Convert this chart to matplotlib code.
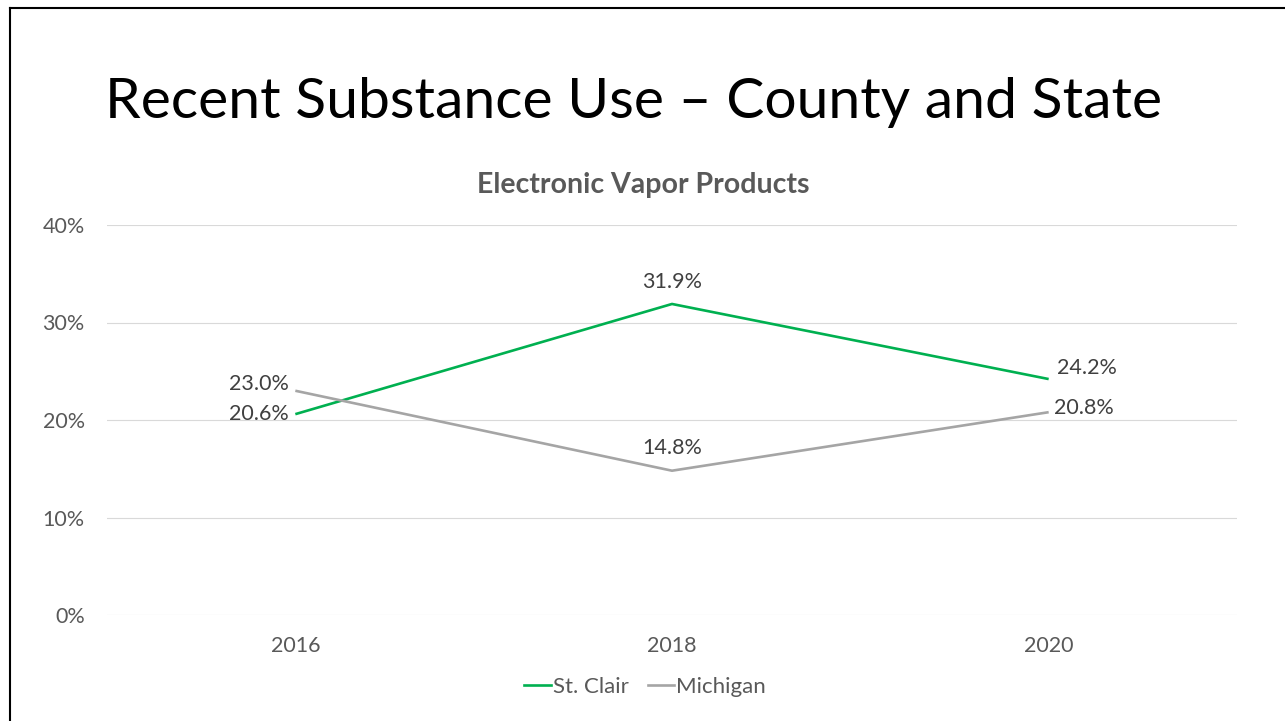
import matplotlib.pyplot as plt
from matplotlib.lines import Line2D

years = ['2016', '2018', '2020']
st_clair = [20.6, 31.9, 24.2]
michigan = [23.0, 14.8, 20.8]
yticks = [0, 10, 20, 30, 40]

green = '#00B050'
gray = '#A5A5A5'
txt = '#595959'
lbl = '#404040'

plt.rcParams['font.family'] = ['Lato', 'DejaVu Sans']

fig = plt.figure(figsize=(12.85, 7.21), dpi=100)
ax = fig.add_axes([107/1285, 1-615/721, 1130/1285, 390/721])

x = range(len(years))
ax.plot(x, st_clair, color=green, lw=1.9, solid_capstyle='butt', zorder=3)
ax.plot(x, michigan, color=gray, lw=1.9, solid_capstyle='butt', zorder=3)

ax.set_xlim(-0.5, 2.5)
ax.set_ylim(0, 40)
ax.set_yticks(yticks)
ax.set_yticklabels([f'{v}%' for v in yticks])
ax.set_xticks(list(x))
ax.set_xticklabels(years)
ax.grid(axis='y', color='#D9D9D9', lw=0.8)
ax.set_axisbelow(True)
for s in ax.spines.values():
    s.set_visible(False)
ax.tick_params(length=0, labelsize=15.5, colors=txt)
ax.tick_params(axis='y', pad=16)
ax.tick_params(axis='x', pad=15)

# data labels
def lab(xi, yi, dx, dy, ha):
    ax.annotate(f'{yi:.1f}%', (xi, yi), xytext=(dx, dy), textcoords='offset points',
                ha=ha, va='center', fontsize=15.5, color=lbl)

lab(0, st_clair[0], -5, 0, 'right')
lab(0, michigan[0], -5, 5, 'right')
lab(1, st_clair[1], 0, 16, 'center')
lab(1, michigan[1], 0, 16, 'center')
lab(2, st_clair[2], 6, 8, 'left')
lab(2, michigan[2], 4, 3, 'left')

fig.text(105/1285, 1-103/721, 'Recent Substance Use \u2013 County and State',
         fontsize=41, color='black', va='center', ha='left')
fig.text(643/1285, 1-185/721, 'Electronic Vapor Products', fontsize=20.5,
         fontweight='bold', color=txt, ha='center', va='center')

handles = [Line2D([], [], color=green, lw=1.9), Line2D([], [], color=gray, lw=1.9)]
fig.legend(handles, ['St. Clair', 'Michigan'], loc='center', ncol=2,
           bbox_to_anchor=(645/1285, 1-687/721), frameon=False, fontsize=16,
           labelcolor=txt, handlelength=1.2, handletextpad=0.08, columnspacing=0.85)

# slide border
fig.add_artist(Line2D([9.5/1285, 9.5/1285], [0, 1-8/721], color='black', lw=1.5))
fig.add_artist(Line2D([9.5/1285, 1], [1-8/721, 1-8/721], color='black', lw=1.5))

fig.savefig('out.png', dpi=100)
